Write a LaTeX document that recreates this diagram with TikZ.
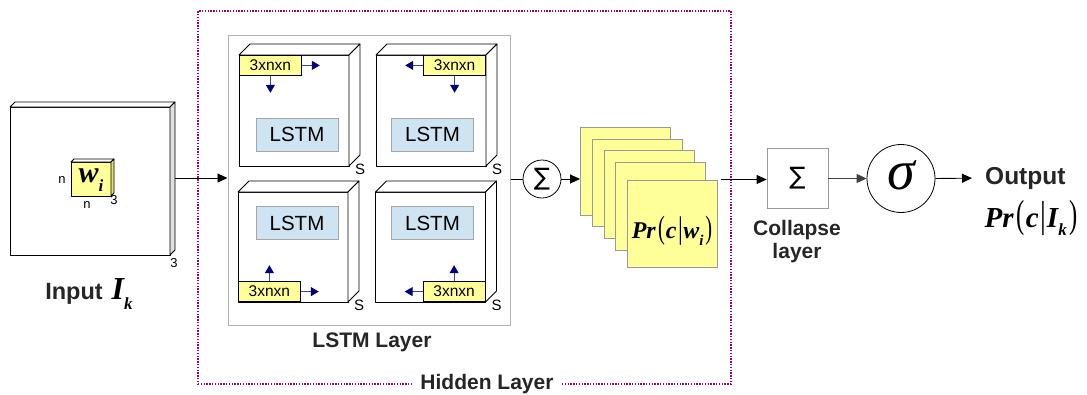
\documentclass[tikz,border=0pt]{standalone}
\usepackage{fontspec}
\usepackage{graphicx}
\setmainfont{Liberation Sans}
\newfontfamily\tms{Liberation Serif}
\newfontfamily\dvs{DejaVu Sans}
\usetikzlibrary{arrows.meta,calc}
\definecolor{yfill}{RGB}{255,255,153}
\definecolor{yside}{RGB}{225,225,110}
\definecolor{lblue}{RGB}{206,228,243}
\definecolor{navytip}{RGB}{0,0,128}
\definecolor{navyline}{RGB}{60,70,150}
\definecolor{hidcol}{RGB}{160,0,110}
\newcommand\prc[4]{{\fontsize{#1}{#1}\selectfont\tms
 {\bfseries\itshape Pr}\kern0.1em%
 \raisebox{0.0em}{\scalebox{0.85}[1.35]{(}}\kern0.04em%
 {\bfseries\itshape c}\kern0.06em%
 \raisebox{0.0em}{\scalebox{1}[1.3]{|}}\kern0.02em%
 {\bfseries\itshape #3}\raisebox{-0.3em}{\fontsize{#2}{#2}\selectfont\bfseries\itshape #4}\kern0.08em%
 \raisebox{0.0em}{\scalebox{0.85}[1.35]{)}}}}
\newcommand\mkcube[8]{%
 \node[front,minimum width=#4pt,minimum height=#5pt,#7] (#1) at (#2,#3) {};
 \draw[face] (#1.north west) -- ++(#6,-#6) -- ($(#1.north east)+(#6,-#6)$) -- (#1.north east) -- cycle;
 \draw[face,fill=#8] (#1.north east) -- ++(#6,-#6) -- ($(#1.south east)+(#6,-#6)$) -- (#1.south east) -- cycle;
}
\begin{document}
\begin{tikzpicture}[x=1pt,y=-1pt,
  face/.style={draw=black,line width=0.8pt,fill=white,line join=round},
  front/.style={face,rectangle,inner sep=0pt,outer sep=0pt},
  ybox/.style={draw=black,line width=0.8pt,fill=yfill,minimum width=62pt,minimum height=20pt,inner sep=0pt,font=\fontsize{15.5}{15.5}\selectfont},
  lbox/.style={draw=gray!70,line width=0.8pt,fill=lblue,minimum width=82pt,minimum height=33pt,inner sep=0pt,font=\fontsize{20.5}{20.5}\selectfont},
  narr/.style={draw=navyline,line width=1pt,-{Triangle[length=8pt,width=9pt,color=navytip]}},
  blk/.style={draw=black,line width=0.9pt,-{Triangle[length=10pt,width=9pt]}},
  plain/.style={draw=black,line width=0.9pt},
  lab/.style={font=\bfseries\fontsize{21}{23}\selectfont,text=black!85},
  slab/.style={font=\fontsize{15}{15}\selectfont,inner sep=0pt},
  nlab/.style={font=\fontsize{13}{13}\selectfont,inner sep=0pt},
  sq/.style={draw=gray!80,line width=0.8pt,fill=yfill,minimum width=90pt,minimum height=87.5pt,inner sep=0pt,anchor=north west},
]
\useasboundingbox (0,0) rectangle (1087,394);

% hidden layer frame
\node[draw=hidcol,line width=1.6pt,dash pattern=on 1.4pt off 1.4pt,minimum width=533pt,minimum height=373pt,inner sep=0pt] (hid) at (464.5,197.5) {};
\node[lab,fill=white,inner xsep=8pt] (hidlab) at (487,384) {Hidden Layer};

% input cube
\mkcube{inp}{90}{181}{160}{148}{5}{}{gray!25}
\node[nlab] (in3) at (174,263) {3};
\mkcube{wc}{91}{179}{40}{34}{3}{fill=yfill}{yside}
\node[inner sep=0pt] (wtxt) at (91,180) {\fontsize{30}{30}\selectfont\tms\bfseries\itshape w\raisebox{-0.3em}{\fontsize{17}{17}\selectfont i}};
\node[nlab] (n1) at (62,180) {n};
\node[nlab] (n2) at (87,205) {n};
\node[nlab] (n3) at (114,200) {3};
\node[inner sep=0pt] (inlab) at (89,294) {{\bfseries\fontsize{23.5}{23.5}\selectfont\color{black!85}Input}\hspace{9pt}{\fontsize{32}{32}\selectfont\tms\bfseries\itshape I\raisebox{-0.3em}{\fontsize{17}{17}\selectfont k}}};

% LSTM layer
\node[draw=gray!60,line width=1pt,minimum width=282pt,minimum height=290pt,inner sep=0pt] (lstm) at (369,180) {};
\node[lab] (lstmlab) at (372,342) {LSTM Layer};

\mkcube{tl}{294}{110.5}{110}{111}{11}{}{white}
\mkcube{tr}{431}{110.5}{110}{111}{11}{}{white}
\mkcube{bl}{293}{247}{110}{110}{11}{}{white}
\mkcube{br}{430.5}{247}{110}{110}{11}{}{white}

\node[slab] (stl) at ($(tl.south east)+(11,3)$) {S};
\node[slab] (str) at ($(tr.south east)+(11,3)$) {S};
\node[slab] (sbl) at ($(bl.south east)+(11,3)$) {S};
\node[slab] (sbr) at ($(br.south east)+(11,3)$) {S};

\node[lbox] (ltl) at ($(tl)+(3,24)$) {LSTM};
\node[lbox] (ltr) at ($(tr)+(1.5,24)$) {LSTM};
\node[lbox] (lbl) at ($(bl)+(4,-24)$) {LSTM};
\node[lbox] (lbr) at ($(br)+(2,-24)$) {LSTM};

\node[ybox,anchor=north west] (ytl) at (tl.north west) {3xnxn};
\node[ybox,anchor=north east] (ytr) at (tr.north east) {3xnxn};
\node[ybox,anchor=south west] (ybl) at (bl.south west) {3xnxn};
\node[ybox,anchor=south east] (ybr) at (br.south east) {3xnxn};

\draw[narr] (ytl.east) -- ++(18,0);
\draw[narr] (ytl.south) -- ++(0,17);
\draw[narr] (ytr.west) -- ++(-18,0);
\draw[narr] (ytr.south) -- ++(0,17);
\draw[narr] (ybl.east) -- ++(18,0);
\draw[narr] (ybl.north) -- ++(0,-16);
\draw[narr] (ybr.west) -- ++(-18,0);
\draw[narr] (ybr.north) -- ++(0,-16);

% input arrow
\coordinate (a0) at ($(inp.east)+(5,-3)$);
\draw[blk] (a0) -- (a0 -| lstm.west);

% sum circle
\node[circle,draw=black,line width=0.8pt,minimum size=38pt,inner sep=0pt] (sum) at (542,179) {\raisebox{-1pt}{\dvs\fontsize{24}{24}\selectfont ∑}};
\draw[plain] (lstm.east |- sum) -- (sum.west);

% stack
\node[sq] (s1) at (580,127) {};
\node[sq] (s2) at (592,138.5) {};
\node[sq] (s3) at (603.5,150) {};
\node[sq] (s4) at (615,162) {};
\node[sq] (s5) at (627,179.5) {};
\node[inner sep=0pt] (prw) at (672,231) {\prc{24}{15}{w}{i}};
\draw[blk] (sum.east) -- (sum.east -| s1.west);

% collapse
\node[draw=gray!80,line width=0.8pt,minimum width=61pt,minimum height=60pt,inner sep=0pt] (coll) at (797.5,178.5) {\dvs\fontsize{24}{24}\selectfont ∑};
\node[lab,align=center] (colllab) at (797,242) {Collapse\\layer};
\coordinate (a1) at ($(s5.north east)+(3,0)$);
\draw[blk] (a1) -- (a1 -| coll.west);

% sigma
\node[circle,draw=black,line width=0.8pt,minimum size=68pt,inner sep=0pt] (sig) at (901,178.5) {\raisebox{6pt}{\tms\itshape\fontsize{56}{56}\selectfont σ}};
\draw[blk,draw=black!75] (coll.east) -- (sig.west);

% output
\node[lab,anchor=west,inner sep=0pt,font=\bfseries\fontsize{24.5}{24.5}\selectfont] (out) at (985,178) {Output};
\draw[blk] (sig.east) -- (out.west) [shorten >=13pt];
\node[inner sep=0pt] (prI) at (1031,218) {\prc{29}{17}{I}{k}};
\end{tikzpicture}
\end{document}
